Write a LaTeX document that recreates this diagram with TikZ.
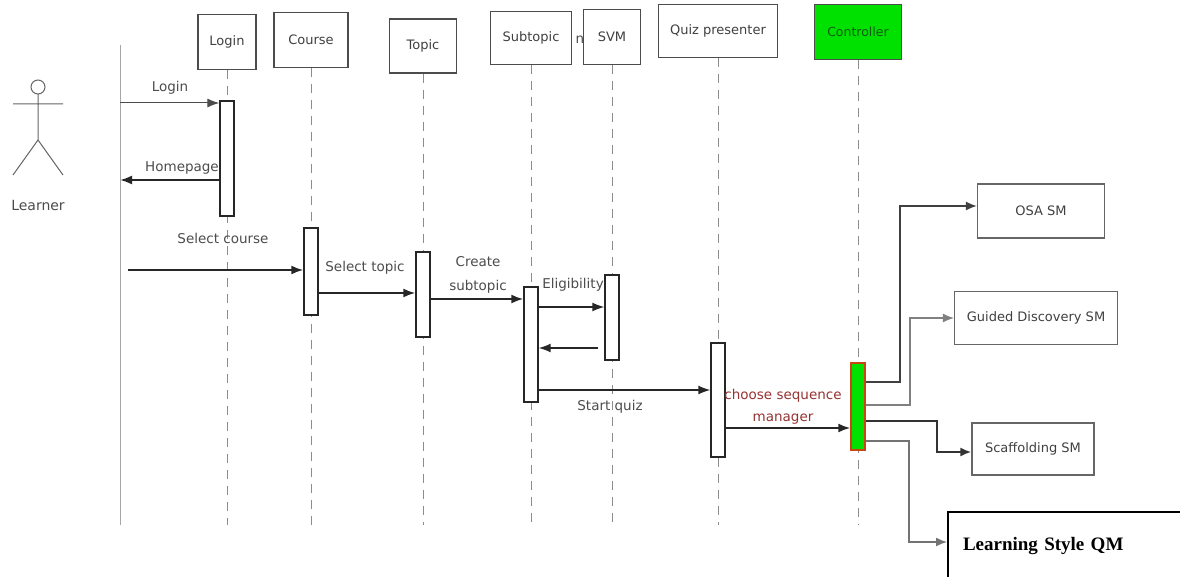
\documentclass[tikz,border=0pt]{standalone}
\usepackage{fontspec}
\setmainfont{DejaVu Sans}
\newfontfamily\qmfont{Liberation Serif}
\usetikzlibrary{arrows.meta}
\usetikzlibrary{positioning}

\definecolor{ctrlgreen}{RGB}{0,225,0}
\definecolor{ctrltext}{RGB}{20,90,20}
\definecolor{ctrledge}{RGB}{200,70,20}
\definecolor{csmred}{RGB}{150,50,50}

\tikzset{
  head/.style={draw=black!70, line width=1.2pt, fill=white, inner sep=2pt,
    font=\fontsize{13}{15}\selectfont, text=black!75},
  life/.style={draw=black!45, line width=0.9pt, dash pattern=on 9pt off 7pt},
  act/.style={draw=black!85, line width=1.3pt, fill=white, minimum width=14pt, inner sep=0pt},
  msg/.style={-{Latex[length=12pt,width=9pt]}, line width=2pt, draw=black!85},
  lbl/.style={font=\fontsize{13.5}{16}\selectfont, text=black!70, align=center},
  smbox/.style={draw=black!60, line width=1.2pt, fill=white, inner sep=2pt,
    font=\fontsize{13}{15}\selectfont, text=black!75},
  route/.style={-{Latex[length=11pt,width=9pt]}, line width=1.5pt, draw=black!75}
}

\begin{document}
\begin{tikzpicture}[x=1pt, y=-1pt]

  \useasboundingbox (0,0) rectangle (1180,577);

  % Learner
  \draw[black!60, line width=1pt] (38,87) circle (7);
  \draw[black!60, line width=1pt] (13,104) -- (63,104)
    (38,94) -- (38,140) (13,175) -- (38,140) -- (63,175);
  \node[lbl, font=\fontsize{14}{16}\selectfont] (learner) at (38,205) {Learner};
  \coordinate (ltop) at (120,45);
  \coordinate (lbot) at (120,525);
  \draw[black!35, line width=1pt] (ltop) -- (lbot);

  % Lifeline heads
  \node[head, minimum width=58pt, minimum height=55pt] (login) at (227,42) {Login};
  \node[head, minimum width=74pt, minimum height=55pt] (course) at (311,40) {Course};
  \node[head, minimum width=67pt, minimum height=54pt] (topic) at (423,46) {Topic};
  \node[head, minimum width=81pt, minimum height=53pt] (subtopic) at (531,38) {Subtopic};
  \node[lbl, right=0pt of subtopic, yshift=-2pt] (stray) {n};
  \node[head, minimum width=57pt, minimum height=55pt] (svm) at (612,37) {SVM};
  \node[head, minimum width=119pt, minimum height=53pt, line width=1.8pt] (quiz) at (718,31) {Quiz presenter};
  \node[head, minimum width=87pt, minimum height=55pt, fill=ctrlgreen, text=ctrltext,
    font=\fontsize{12.5}{15}\selectfont] (ctrl) at (858,32) {Controller};

  % Lifelines
  \foreach \h in {login,course,topic,subtopic,svm,quiz,ctrl}
    \draw[life] (\h.south) -- (\h.south |- lbot);

  % Activations
  \node[act, minimum height=115pt] (alogin) at (login |- 0,158.5) {};
  \node[act, minimum height=87pt] (acourse) at (course |- 0,271.5) {};
  \node[act, minimum height=85pt] (atopic) at (topic |- 0,294.5) {};
  \node[act, minimum height=115pt] (asub) at (subtopic |- 0,344.5) {};
  \node[act, minimum height=85pt] (asvm) at (svm |- 0,317.5) {};
  \node[act, minimum height=114pt] (aquiz) at (quiz |- 0,400) {};
  \node[act, minimum height=87pt, fill=ctrlgreen, draw=ctrledge] (actrl) at (ctrl |- 0,406.5) {};

  % Messages
  \draw[msg, line width=1pt, draw=black!70] (ltop |- 0,103) -- (alogin.west |- 0,103);
  \node[lbl] (mlogin) at (170,88) {Login};
  \draw[msg] (alogin.west |- 0,180) -- (ltop |- 0,180);
  \node[lbl] (mhome) at (182,168) {Homepage};
  \draw[msg] (128,270) -- (acourse.west |- 0,270);
  \node[lbl] (mcourse) at (223,238) {Select course};
  \draw[msg] (acourse.east |- 0,293) -- (atopic.west |- 0,293);
  \node[lbl] (mtopic) at (365,268) {Select topic};
  \draw[msg] (atopic.east |- 0,299) -- (asub.west |- 0,299);
  \node[lbl, font=\fontsize{13.5}{24}\selectfont] (msub) at (478,275) {Create\\subtopic};
  \draw[msg, line width=1.5pt] (asub.east |- 0,307) -- (asvm.west |- 0,307);
  \node[lbl] (melig) at (573,285) {Eligibility};
  \draw[msg, line width=1.5pt] (598,348) -- (asub.east |- 0,348);
  \draw[msg, line width=1.5pt] (asub.east |- 0,390) -- (aquiz.west |- 0,390);
  \node[lbl] (mstart) at (610,407) {Start quiz};
  \draw[msg] (aquiz.east |- 0,428) -- (actrl.west |- 0,428);
  \node[lbl, text=csmred, font=\fontsize{13.5}{22}\selectfont] (mchoose) at (783,407) {choose sequence\\manager};

  % Sequence managers
  \node[smbox, minimum width=127pt, minimum height=54pt] (osa) at (1041,211) {OSA SM};
  \node[smbox, minimum width=163pt, minimum height=53pt] (guided) at (1036,318) {Guided Discovery SM};
  \node[smbox, minimum width=122pt, minimum height=52pt] (scaff) at (1033,449) {Scaffolding SM};
  \node[draw=black, line width=2pt, fill=white, minimum width=242pt, minimum height=68pt,
    text width=212pt, inner xsep=15pt, align=left, font=\qmfont\bfseries\fontsize{19}{21}\selectfont]
    (lsqm) at (1069,546) {Learning Style QM};

  \draw[route] (actrl.east |- 0,382) -| (900,206) -- (osa.west |- 0,206);
  \draw[route, line width=1.2pt, draw=black!50] (actrl.east |- 0,405) -| (910,318) -- (guided.west);
  \draw[route, line width=2pt, draw=black!80] (actrl.east |- 0,421) -| (937,452) -- (scaff.west |- 0,452);
  \draw[route, draw=black!55] (actrl.east |- 0,441) -| (909,542) -- (lsqm.west |- 0,542);

\end{tikzpicture}
\end{document}
